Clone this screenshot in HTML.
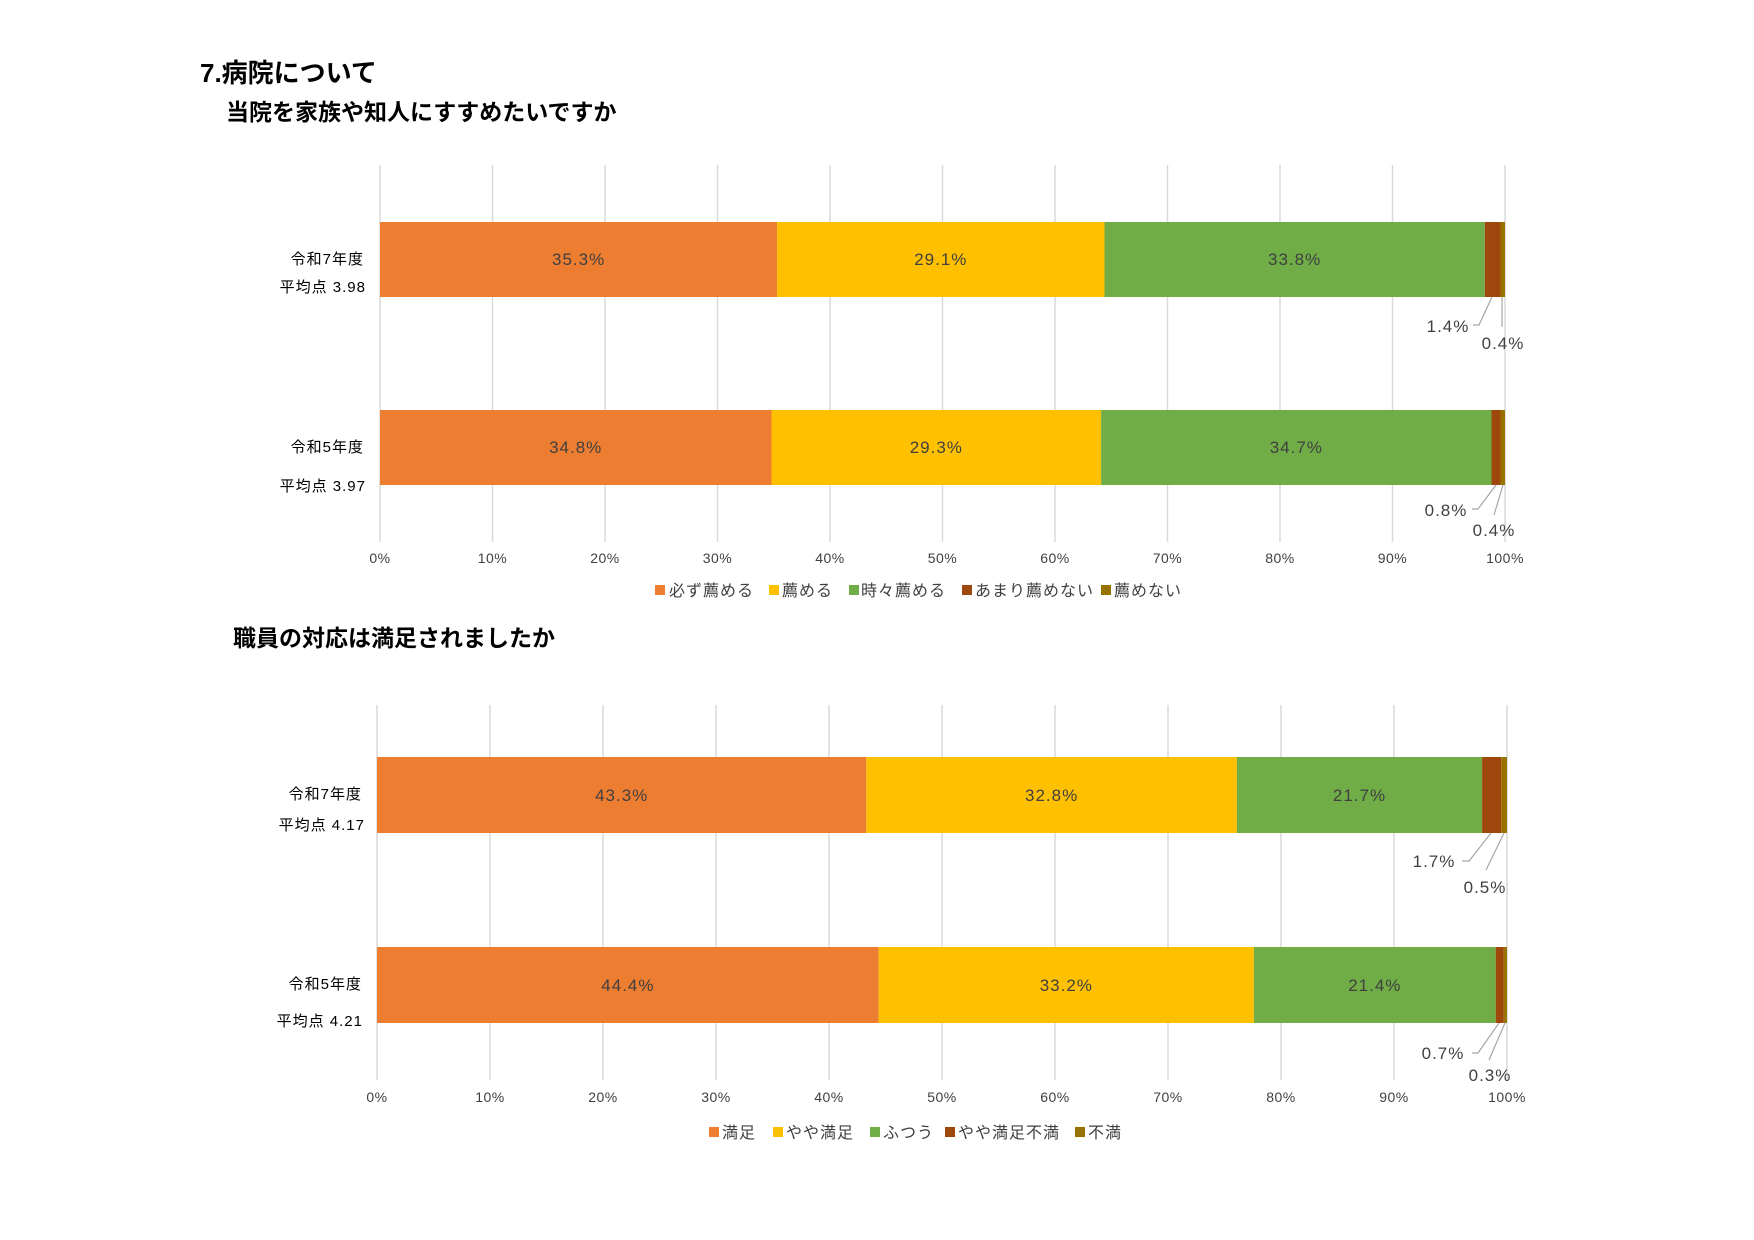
<!DOCTYPE html>
<html><head><meta charset="utf-8"><style>
html,body{margin:0;padding:0;background:#fff;}
svg{display:block;font-family:"Liberation Sans","Noto Sans CJK JP",sans-serif;}
</style></head><body>
<svg width="1754" height="1240" viewBox="0 0 1754 1240" xmlns="http://www.w3.org/2000/svg">
<rect width="1754" height="1240" fill="#fff"/>
<text x="200" y="82" font-size="26" font-weight="bold" fill="#000">7.病院について</text>
<text x="226" y="120" font-size="23" font-weight="bold" fill="#000">当院を家族や知人にすすめたいですか</text>
<text x="233" y="646" font-size="23" font-weight="bold" fill="#000">職員の対応は満足されましたか</text>

<g stroke="#d9d9d9" stroke-width="1.5">
<line x1="380" y1="165" x2="380" y2="542"/><line x1="492.5" y1="165" x2="492.5" y2="542"/><line x1="605" y1="165" x2="605" y2="542"/><line x1="717.5" y1="165" x2="717.5" y2="542"/><line x1="830" y1="165" x2="830" y2="542"/><line x1="942.5" y1="165" x2="942.5" y2="542"/><line x1="1055" y1="165" x2="1055" y2="542"/><line x1="1167.5" y1="165" x2="1167.5" y2="542"/><line x1="1280" y1="165" x2="1280" y2="542"/><line x1="1392.5" y1="165" x2="1392.5" y2="542"/><line x1="1505" y1="165" x2="1505" y2="542"/>
</g>
<g font-size="14" fill="#404040" text-anchor="middle" letter-spacing="0.5">
<text x="380" y="563">0%</text><text x="492.5" y="563">10%</text><text x="605" y="563">20%</text><text x="717.5" y="563">30%</text><text x="830" y="563">40%</text><text x="942.5" y="563">50%</text><text x="1055" y="563">60%</text><text x="1167.5" y="563">70%</text><text x="1280" y="563">80%</text><text x="1392.5" y="563">90%</text><text x="1505" y="563">100%</text>
</g>
<rect x="380" y="222" width="397.1" height="75" fill="#ED7D31"/>
<rect x="777.1" y="222" width="327.4" height="75" fill="#FFC000"/>
<rect x="1104.5" y="222" width="380.3" height="75" fill="#70AD47"/>
<rect x="1484.8" y="222" width="15.7" height="75" fill="#9E480E"/>
<rect x="1500.5" y="222" width="4.5" height="75" fill="#997300"/>
<rect x="380" y="410" width="391.5" height="75" fill="#ED7D31"/>
<rect x="771.5" y="410" width="329.6" height="75" fill="#FFC000"/>
<rect x="1101.1" y="410" width="390.4" height="75" fill="#70AD47"/>
<rect x="1491.5" y="410" width="9" height="75" fill="#9E480E"/>
<rect x="1500.5" y="410" width="4.5" height="75" fill="#997300"/>
<g font-size="17" fill="#404040" text-anchor="middle" letter-spacing="1">
<text x="578.6" y="265">35.3%</text><text x="940.8" y="265">29.1%</text><text x="1294.6" y="265">33.8%</text>
<text x="575.7" y="453">34.8%</text><text x="936.3" y="453">29.3%</text><text x="1296.3" y="453">34.7%</text>
</g>
<g font-size="15" fill="#000" text-anchor="end" letter-spacing="1">
<text x="364" y="264">令和7年度</text><text x="366" y="292">平均点  3.98</text>
<text x="364" y="452">令和5年度</text><text x="366" y="491">平均点  3.97</text>
</g>
<g stroke="#a6a6a6" stroke-width="1.2" fill="none">
<polyline points="1492,297 1479,325 1473,325"/>
<line x1="1502" y1="297" x2="1502" y2="327"/>
<polyline points="1496,485 1478,509 1472,509"/>
<line x1="1503" y1="485" x2="1494" y2="515"/>
</g>
<g font-size="17" fill="#404040" text-anchor="middle" letter-spacing="1">
<text x="1448" y="332">1.4%</text><text x="1503" y="349">0.4%</text>
<text x="1446" y="516">0.8%</text><text x="1494" y="536">0.4%</text>
</g>
<g font-size="16" fill="#404040" letter-spacing="1">
<rect x="655" y="585" width="10" height="10" fill="#ED7D31"/><text x="669" y="596">必ず薦める</text>
<rect x="769" y="585" width="10" height="10" fill="#FFC000"/><text x="782" y="596">薦める</text>
<rect x="849" y="585" width="10" height="10" fill="#70AD47"/><text x="861" y="596">時々薦める</text>
<rect x="962" y="585" width="10" height="10" fill="#9E480E"/><text x="975" y="596">あまり薦めない</text>
<rect x="1101" y="585" width="10" height="10" fill="#997300"/><text x="1114" y="596">薦めない</text>
</g>

<g stroke="#d9d9d9" stroke-width="1.5">
<line x1="377" y1="705" x2="377" y2="1080"/><line x1="490" y1="705" x2="490" y2="1080"/><line x1="603" y1="705" x2="603" y2="1080"/><line x1="716" y1="705" x2="716" y2="1080"/><line x1="829" y1="705" x2="829" y2="1080"/><line x1="942" y1="705" x2="942" y2="1080"/><line x1="1055" y1="705" x2="1055" y2="1080"/><line x1="1168" y1="705" x2="1168" y2="1080"/><line x1="1281" y1="705" x2="1281" y2="1080"/><line x1="1394" y1="705" x2="1394" y2="1080"/><line x1="1507" y1="705" x2="1507" y2="1080"/>
</g>
<g font-size="14" fill="#404040" text-anchor="middle" letter-spacing="0.5">
<text x="377" y="1102">0%</text><text x="490" y="1102">10%</text><text x="603" y="1102">20%</text><text x="716" y="1102">30%</text><text x="829" y="1102">40%</text><text x="942" y="1102">50%</text><text x="1055" y="1102">60%</text><text x="1168" y="1102">70%</text><text x="1281" y="1102">80%</text><text x="1394" y="1102">90%</text><text x="1507" y="1102">100%</text>
</g>
<rect x="377" y="757" width="489.3" height="76" fill="#ED7D31"/>
<rect x="866.3" y="757" width="370.6" height="76" fill="#FFC000"/>
<rect x="1236.9" y="757" width="245.2" height="76" fill="#70AD47"/>
<rect x="1482.1" y="757" width="19.2" height="76" fill="#9E480E"/>
<rect x="1501.3" y="757" width="5.7" height="76" fill="#997300"/>
<rect x="377" y="947" width="501.7" height="76" fill="#ED7D31"/>
<rect x="878.7" y="947" width="375.2" height="76" fill="#FFC000"/>
<rect x="1253.9" y="947" width="241.8" height="76" fill="#70AD47"/>
<rect x="1495.7" y="947" width="7.9" height="76" fill="#9E480E"/>
<rect x="1503.6" y="947" width="3.4" height="76" fill="#997300"/>
<g font-size="17" fill="#404040" text-anchor="middle" letter-spacing="1">
<text x="621.7" y="801">43.3%</text><text x="1051.6" y="801">32.8%</text><text x="1359.5" y="801">21.7%</text>
<text x="627.9" y="991">44.4%</text><text x="1066.3" y="991">33.2%</text><text x="1374.8" y="991">21.4%</text>
</g>
<g font-size="15" fill="#000" text-anchor="end" letter-spacing="1">
<text x="362" y="799">令和7年度</text><text x="365" y="830">平均点  4.17</text>
<text x="362" y="989">令和5年度</text><text x="363" y="1026">平均点  4.21</text>
</g>
<g stroke="#a6a6a6" stroke-width="1.2" fill="none">
<polyline points="1491,833 1469,861 1462,861"/>
<line x1="1504" y1="833" x2="1486" y2="870"/>
<polyline points="1499,1023 1478,1053 1472,1053"/>
<line x1="1505" y1="1023" x2="1489" y2="1060"/>
</g>
<g font-size="17" fill="#404040" text-anchor="middle" letter-spacing="1">
<text x="1434" y="867">1.7%</text><text x="1485" y="893">0.5%</text>
<text x="1443" y="1059">0.7%</text><text x="1490" y="1081">0.3%</text>
</g>
<g font-size="16" fill="#404040" letter-spacing="1">
<rect x="709" y="1127" width="10" height="10" fill="#ED7D31"/><text x="722" y="1138">満足</text>
<rect x="773" y="1127" width="10" height="10" fill="#FFC000"/><text x="786" y="1138">やや満足</text>
<rect x="870" y="1127" width="10" height="10" fill="#70AD47"/><text x="883" y="1138">ふつう</text>
<rect x="945" y="1127" width="10" height="10" fill="#9E480E"/><text x="958" y="1138">やや満足不満</text>
<rect x="1075" y="1127" width="10" height="10" fill="#997300"/><text x="1088" y="1138">不満</text>
</g>
</svg>
</body></html>
